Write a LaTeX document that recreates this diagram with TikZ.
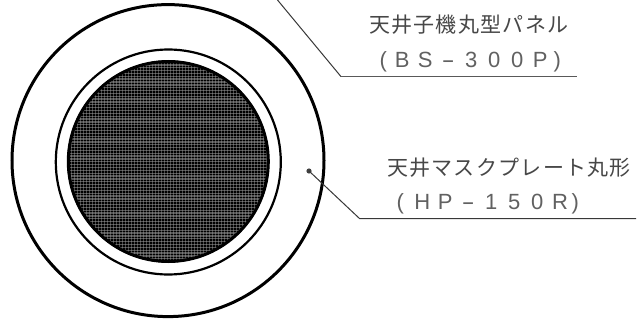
\documentclass[tikz,border=0pt]{standalone}
\usepackage{fontspec}
\newfontfamily\jpfont{Noto Sans CJK JP}[LetterSpace=6]
\newfontfamily\latinfont{Liberation Sans}
\newcommand{\cellbox}[2][23]{\makebox[#1pt][c]{#2}}
\newcommand{\widedash}{\makebox[23pt][c]{\scalebox{1.8}[1]{-}}}
\tikzset{
  labeltext/.style={font=\jpfont\fontsize{21}{21}\selectfont,text=black!72,inner sep=0pt,anchor=base west},
  modeltext/.style={font=\latinfont\fontsize{22}{22}\selectfont,text=black!62,inner sep=0pt,anchor=base west},
  leader/.style={draw=black!78,line width=1pt},
  ringthick/.style={draw=black,line width=3pt},
  ringthin/.style={draw=black,line width=2.2pt},
  meshedge/.style={draw=black,line width=3pt}
}
\begin{document}
\begin{tikzpicture}[x=1pt,y=-1pt]
\useasboundingbox (0,0) rectangle (640,321);
\fill[white] (0,0) rectangle (640,321);
% mesh
\begin{scope}
\clip (168.3,161.5) circle[radius=101];
\fill[black!72] (60,50) rectangle (280,275);
\foreach \i in {0,...,75} \fill[black] ({60+\i*3},50) rectangle ({61.5+\i*3},275);
\foreach \j in {0,...,80} \fill[black!35,opacity=0.5] (60,{50+\j*2.85}) rectangle (280,{51.3+\j*2.85});
\end{scope}
\draw[meshedge] (168.3,161.5) circle[radius=100];
\draw[ringthin] (168.3,162) circle[radius=112.5];
\draw[ringthick] (168,160.6) circle[radius=156];
% leaders
\coordinate (topfree) at (277.5,0);
\coordinate (topknee) at (341,76.6);
\coordinate (topend) at (576.5,76.6);
\draw[leader] (topfree) -- (topknee);
\draw[leader,line width=1.4pt,draw=black!65] (topknee) -- (topend);
\coordinate (dot) at (309,171);
\fill[black!75] (dot) circle[radius=2.6];
\coordinate (lowknee) at (359.5,218.5);
\coordinate (lowend) at (636,218.5);
\draw[leader] (dot) -- (lowknee) -- (lowend);
% labels
\node[labeltext] (t1) at (369,33) {天井子機丸型パネル};
\node[modeltext] (m1) at (375.5,68) {\cellbox[15]{(}\cellbox{B}\cellbox{S}\widedash\cellbox{3}\cellbox{0}\cellbox{0}\cellbox{P}\cellbox[11]{)}};
\node[labeltext] (t2) at (387,175) {天井マスクプレート丸形};
\node[modeltext] (m2) at (389.5,209) {\cellbox[21]{(}\cellbox{H}\cellbox{P}\widedash\cellbox{1}\cellbox{5}\cellbox{0}\cellbox{R}\cellbox[7]{)}};
\end{tikzpicture}
\end{document}
